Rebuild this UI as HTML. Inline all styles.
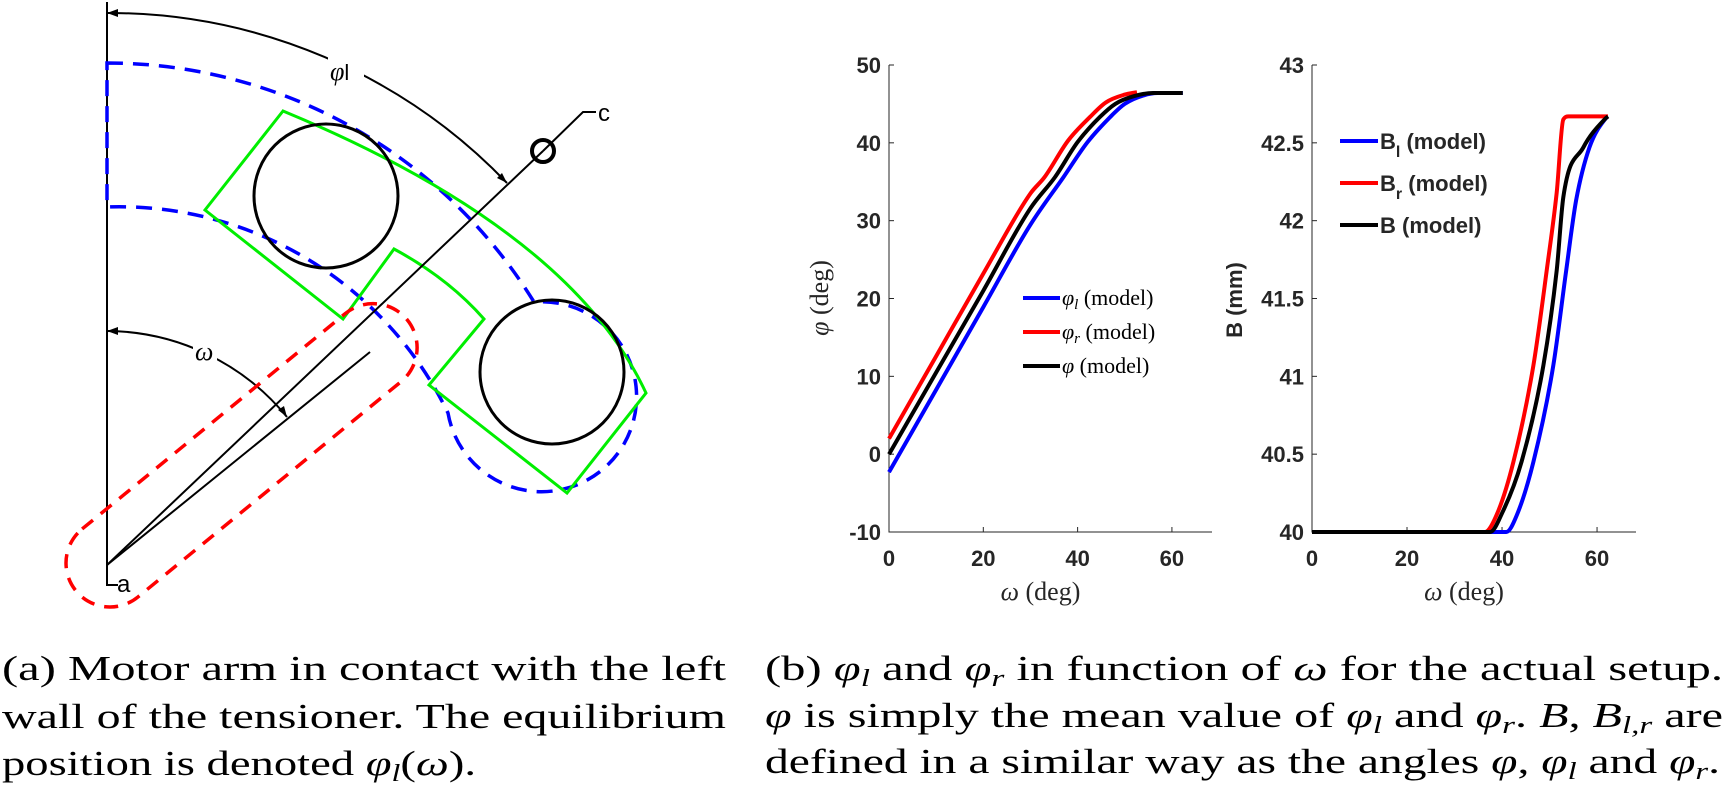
<!DOCTYPE html>
<html><head><meta charset="utf-8"><style>
html,body{margin:0;padding:0;background:#fff;}
svg{display:block;}
.tk{font-family:"Liberation Sans",sans-serif;font-weight:bold;font-size:22px;fill:#262626;}
.ser{font-family:"Liberation Serif",serif;}
</style></head><body>
<svg id="fig" width="1725" height="785" viewBox="0 0 1725 785" xmlns="http://www.w3.org/2000/svg">
<g id="diagram" fill="none">
  <line x1="107" y1="2" x2="107" y2="570" stroke="#000" stroke-width="2"/>
  <path d="M107,13 A552,552 0 0 1 507,183" stroke="#000" stroke-width="2"/>
  <polygon points="107,13 118,9 118,17" fill="#000"/>
  <polygon points="507,183 497,178 502,173" fill="#000"/>
  <rect x="328" y="56" width="36" height="28" fill="#fff" stroke="none"/>
  <text x="330" y="80" class="ser" font-style="italic" font-size="26" fill="#000">φ<tspan font-style="normal" font-family="Liberation Sans" font-size="22">l</tspan></text>
  <path d="M107,331 A234,234 0 0 1 287,417" stroke="#000" stroke-width="2"/>
  <polygon points="107,331 118,327 118,335" fill="#000"/>
  <polygon points="287,417 278,410 284,406" fill="#000"/>
  <rect x="193" y="338" width="24" height="24" fill="#fff" stroke="none"/>
  <text x="195" y="360" class="ser" font-style="italic" font-size="26" fill="#000">ω</text>
  <path d="M107,63 A502,502 0 0 1 534,302 A95,95 0 1 1 448,413 A365,365 0 0 0 107,207 Z" stroke="#0000ff" stroke-width="3.5" stroke-dasharray="16,10"/>
  <path d="M283,111 L205,210 L343,319 L394,249 Q448,278 484,319 L429,385 L567,493 L646,393 Q570,230 283,111 Z" stroke="#00ee00" stroke-width="3"/>
  <circle cx="326" cy="196" r="72" stroke="#000" stroke-width="3"/>
  <circle cx="552" cy="372" r="72" stroke="#000" stroke-width="3"/>
  <g transform="translate(110,563) rotate(-39.3)">
    <rect x="-44" y="-44" width="428" height="88" rx="44" ry="44" stroke="#ff0000" stroke-width="3.5" stroke-dasharray="14,10"/>
  </g>
  <line x1="107" y1="565" x2="543" y2="151" stroke="#000" stroke-width="2"/>
  <polyline points="543,151 583,112 596,112" stroke="#000" stroke-width="2"/>
  <circle cx="543" cy="151" r="11" stroke="#000" stroke-width="4"/>
  <line x1="107" y1="565" x2="370" y2="352" stroke="#000" stroke-width="2"/>
  <text x="598" y="121" font-family="Liberation Sans" font-size="24" fill="#000">c</text>
  <polyline points="107,567 107,585 118,585" stroke="#000" stroke-width="2"/>
  <text x="117" y="592" font-family="Liberation Sans" font-size="24" fill="#000">a</text>
</g>
<g id="chart1"></g>
<g id="chart2"></g>
<g class="ser" font-size="35" fill="#000">
  <text x="2" y="680" textLength="724" lengthAdjust="spacingAndGlyphs">(a) Motor arm in contact with the left</text>
  <text x="2" y="728" textLength="724" lengthAdjust="spacingAndGlyphs">wall of the tensioner.  The equilibrium</text>
  <text x="2" y="775" textLength="474" lengthAdjust="spacingAndGlyphs">position is denoted <tspan font-style="italic">φ<tspan font-size="24" dy="6">l</tspan></tspan><tspan dy="-6">(</tspan><tspan font-style="italic">ω</tspan>).</text>
</g>
<g class="ser" font-size="35" fill="#000">
  <text x="765" y="680" textLength="958" lengthAdjust="spacingAndGlyphs">(b) <tspan font-style="italic">φ<tspan font-size="24" dy="6">l</tspan></tspan><tspan dy="-6"> and </tspan><tspan font-style="italic">φ<tspan font-size="24" dy="6">r</tspan></tspan><tspan dy="-6"> in function of </tspan><tspan font-style="italic">ω</tspan> for the actual setup.</text>
  <text x="765" y="727" textLength="958" lengthAdjust="spacingAndGlyphs"><tspan font-style="italic">φ</tspan> is simply the mean value of <tspan font-style="italic">φ<tspan font-size="24" dy="6">l</tspan></tspan><tspan dy="-6"> and </tspan><tspan font-style="italic">φ<tspan font-size="24" dy="6">r</tspan></tspan><tspan dy="-6">. </tspan><tspan font-style="italic">B</tspan>, <tspan font-style="italic">B<tspan font-size="24" dy="6">l,r</tspan></tspan><tspan dy="-6"> are</tspan></text>
  <text x="765" y="773" textLength="955" lengthAdjust="spacingAndGlyphs">defined in a similar way as the angles <tspan font-style="italic">φ</tspan>, <tspan font-style="italic">φ<tspan font-size="24" dy="6">l</tspan></tspan><tspan dy="-6"> and </tspan><tspan font-style="italic">φ<tspan font-size="24" dy="6">r</tspan></tspan><tspan dy="-6">.</tspan></text>
</g>
</svg>
<script>
// Chart 1 data (phi vs omega)
const phiLW = [0,10,20,30,37,42,46.9,50,54,57,62.3];
const phiLV = [-2.3,8.3,18.9,29.5,35.6,40,43.3,45,46.1,46.4,46.4];
const phiRW = [0,10,20,30,33,38,42.6,46,50,52.6];
const phiRV = [2,12.6,23.2,33.5,35.6,40.3,43.3,45.2,46.2,46.5];
const phiW = [0,10,20,30,35.2,40,44.7,48,52,56,62.3];
const phiV = [0,10.5,21,31.6,35.6,40.1,43.3,45,46,46.4,46.4];
const phiYTicks = [-10,0,10,20,30,40,50];
const phiYTickLabels = ["-10","0","10","20","30","40","50"];
const xTicks = [0,20,40,60];
const xTickLabels = ["0","20","40","60"];
// Chart 2 data (B vs omega)
const bLW = [0,40.9,43,46.6,50.8,53.5,55.6,58.4,61.9,62.3];
const bLV = [40,40,40.1,40.45,41.07,41.68,42.13,42.47,42.66,42.67];
const bRW = [0,36.4,39,42.4,46.6,49.4,51.5,52.9,54,62.3];
const bRV = [40,40,40.12,40.45,41.07,41.68,42.18,42.65,42.67,42.67];
const bW = [0,37.5,40,44.1,48.7,51.5,52.9,57.1,61.9,62.3];
const bV = [40,40,40.12,40.45,41.07,41.68,42.15,42.47,42.66,42.67];
const bYTicks = [40,40.5,41,41.5,42,42.5,43];
const bYTickLabels = ["40","40.5","41","41.5","42","42.5","43"];

const NS = "http://www.w3.org/2000/svg";
function mk(tag, attrs, parent){const e=document.createElementNS(NS,tag);for(const k in attrs)e.setAttribute(k,attrs[k]);parent.appendChild(e);return e;}

// monotone cubic (Fritsch-Carlson) in pixel space
function smoothPath(xs, ys){
  const n=xs.length, d=[], m=[];
  for(let i=0;i<n-1;i++) d.push((ys[i+1]-ys[i])/(xs[i+1]-xs[i]));
  m[0]=d[0]; m[n-1]=d[n-2];
  for(let i=1;i<n-1;i++){ m[i]=(d[i-1]*d[i]<=0)?0:(d[i-1]+d[i])/2; }
  for(let i=0;i<n-1;i++){
    if(d[i]===0){m[i]=0;m[i+1]=0;continue;}
    const a=m[i]/d[i], b=m[i+1]/d[i], s=a*a+b*b;
    if(s>9){const t=3/Math.sqrt(s);m[i]=t*a*d[i];m[i+1]=t*b*d[i];}
  }
  let p="M"+xs[0].toFixed(1)+","+ys[0].toFixed(1);
  for(let i=0;i<n-1;i++){
    const h=(xs[i+1]-xs[i])/3;
    p+=" C"+(xs[i]+h).toFixed(1)+","+(ys[i]+m[i]*h).toFixed(1)+" "+(xs[i+1]-h).toFixed(1)+","+(ys[i+1]-m[i+1]*h).toFixed(1)+" "+xs[i+1].toFixed(1)+","+ys[i+1].toFixed(1);
  }
  return p;
}

function drawChart(g, o){
  const X = v => o.x0 + (v - 0) / (o.xmax - 0) * (o.x1 - o.x0);
  const Y = v => o.yb - (v - o.ymin) / (o.ymax - o.ymin) * (o.yb - o.yt);
  const ax = mk("path",{d:"M"+o.x0+","+o.yt+" L"+o.x0+","+o.yb+" L"+o.x1+","+o.yb,fill:"none",stroke:"#262626","stroke-width":1},g);
  
  
  o.yTicks.forEach((t,i)=>{
    const y=Y(t);
    const tl=mk("line",{x1:o.x0,y1:y,x2:o.x0+5,y2:y,stroke:"#262626","stroke-width":1},g);
    
    
    const tx=mk("text",{x:o.x0-8,y:y+8,"text-anchor":"end",class:"tk"},g);
    tx.textContent=o.yLabels[i];
    
    
  });
  xTicks.forEach((t,i)=>{
    const x=X(t);
    const tl=mk("line",{x1:x,y1:o.yb,x2:x,y2:o.yb-5,stroke:"#262626","stroke-width":1},g);
    
    
    const tx=mk("text",{x:x,y:o.yb+34,"text-anchor":"middle",class:"tk"},g);
    tx.textContent=xTickLabels[i];
    
    
  });
  o.series.forEach(s=>{
    const p=mk("path",{d:smoothPath(s.w.map(X),s.v.map(Y)),fill:"none",stroke:s.color,"stroke-width":4,"stroke-linejoin":"round"},g);
    
    
  });
  const xt=mk("text",{x:(o.x0+o.x1)/2-10,y:o.yb+68,"text-anchor":"middle",class:"ser","font-size":26,fill:"#262626"},g);
  xt.innerHTML='<tspan font-style="italic">ω</tspan> (deg)';
  
  
  return {X,Y};
}

const g1=document.getElementById("chart1");
drawChart(g1,{prefix:"phi",x0:889,x1:1212,xmax:68.5,yt:65,yb:532,ymin:-10,ymax:50,yTicks:phiYTicks,yLabels:phiYTickLabels,
  series:[{w:phiLW,v:phiLV,color:"#0000ff",name:"phi-l-line"},{w:phiRW,v:phiRV,color:"#ff0000",name:"phi-r-line"},{w:phiW,v:phiV,color:"#000000",name:"phi-line"}]});
const yl1=mk("text",{transform:"translate(828,298) rotate(-90)","text-anchor":"middle",class:"ser","font-size":26,fill:"#262626"},g1);
yl1.innerHTML='<tspan font-style="italic">φ</tspan> (deg)';


const leg1=[["#0000ff","l"],["#ff0000","r"],["#000000",""]];
leg1.forEach((e,i)=>{
  const y=298+i*34;
  const l=mk("line",{x1:1023,y1:y,x2:1060,y2:y,stroke:e[0],"stroke-width":4},g1);
  
  
  const t=mk("text",{x:1062,y:y+7,class:"ser","font-size":22,fill:"#000"},g1);
  t.innerHTML='<tspan font-style="italic">φ</tspan>'+(e[1]?'<tspan font-style="italic" font-size="15" dy="4">'+e[1]+'</tspan><tspan dy="-4"> (model)</tspan>':' (model)');
  
  
});

const g2=document.getElementById("chart2");
drawChart(g2,{prefix:"b",x0:1312,x1:1636,xmax:68.2,yt:65,yb:532,ymin:40,ymax:43,yTicks:bYTicks,yLabels:bYTickLabels,
  series:[{w:bLW,v:bLV,color:"#0000ff",name:"b-l-line"},{w:bRW,v:bRV,color:"#ff0000",name:"b-r-line"},{w:bW,v:bV,color:"#000000",name:"b-line"}]});
const yl2=mk("text",{transform:"translate(1242,300) rotate(-90)","text-anchor":"middle",class:"tk","font-size":26},g2);
yl2.textContent="B (mm)";


const leg2=[["#0000ff","l"],["#ff0000","r"],["#000000",""]];
leg2.forEach((e,i)=>{
  const y=141+i*42;
  const l=mk("line",{x1:1340,y1:y,x2:1378,y2:y,stroke:e[0],"stroke-width":4},g2);
  
  
  const t=mk("text",{x:1380,y:y+8,class:"tk",fill:"#000"},g2);
  t.innerHTML='B'+(e[1]?'<tspan font-size="16" dy="8">'+e[1]+'</tspan><tspan dy="-8"> (model)</tspan>':' (model)');
  
  
});
</script>
</body></html>
